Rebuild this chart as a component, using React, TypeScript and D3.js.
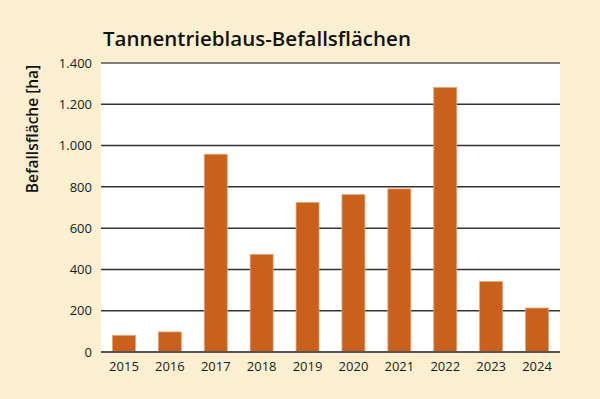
import React, { useEffect, useRef } from 'react';
import * as d3 from 'd3';

const years = ['2015', '2016', '2017', '2018', '2019', '2020', '2021', '2022', '2023', '2024'];
const areas = [80, 97, 958, 472, 724, 762, 790, 1281, 341, 213];
const yTicks = [0, 200, 400, 600, 800, 1000, 1200, 1400];

const fmt = (v: number) => d3.format(',')(v).replace(/,/g, '.');

export default function App() {
  const ref = useRef<SVGSVGElement | null>(null);

  useEffect(() => {
    const width = 600;
    const height = 399;
    const margin = { top: 63, right: 40, bottom: 47, left: 101 };
    const innerW = width - margin.left - margin.right;
    const innerH = height - margin.top - margin.bottom;

    const svg = d3.select(ref.current);
    svg.selectAll('*').remove();

    svg.append('rect').attr('width', width).attr('height', height).attr('fill', '#fdf0d0');

    const g = svg.append('g').attr('transform', 'translate(' + margin.left + ',' + margin.top + ')');

    g.append('rect').attr('width', innerW).attr('height', innerH).attr('fill', '#ffffff');

    const x = d3.scaleBand().domain(years).range([0, innerW]).paddingInner(0.5).paddingOuter(0.25);
    const y = d3.scaleLinear().domain([0, 1400]).range([innerH, 0]);

    // grid lines
    g.selectAll('.grid').data(yTicks).enter().append('line')
      .attr('x1', 0).attr('x2', innerW)
      .attr('y1', (d) => y(d)).attr('y2', (d) => y(d))
      .attr('stroke', (d) => (d === 0 || d === 1400 ? '#555' : '#333'))
      .attr('stroke-width', (d) => (d === 0 ? 2 : 1.5));

    // bars
    g.selectAll('.bar').data(areas).enter().append('rect')
      .attr('x', (d, i) => x(years[i]) as number)
      .attr('y', (d) => y(d))
      .attr('width', x.bandwidth())
      .attr('height', (d) => innerH - y(d))
      .attr('fill', '#c9601b')
      .attr('stroke', '#e8a070')
      .attr('stroke-width', 0.8);

    // redraw the baseline on top
    g.append('line').attr('x1', 0).attr('x2', innerW).attr('y1', innerH).attr('y2', innerH)
      .attr('stroke', '#555').attr('stroke-width', 2);

    const font = '"Open Sans", "DejaVu Sans", sans-serif';

    const yAxis = d3.axisLeft(y).tickValues(yTicks).tickSize(0).tickPadding(9).tickFormat((d) => fmt(d as number));
    const ya = g.append('g').call(yAxis);
    ya.select('.domain').remove();
    ya.selectAll('text').attr('font-family', font).attr('font-size', 13).attr('fill', '#1a1a1a');

    const xAxis = d3.axisBottom(x).tickSize(0).tickPadding(10);
    const xa = g.append('g').attr('transform', 'translate(0,' + innerH + ')').call(xAxis);
    xa.select('.domain').remove();
    xa.selectAll('text').attr('font-family', font).attr('font-size', 13).attr('fill', '#1a1a1a');

    svg.append('text')
      .attr('x', 103).attr('y', 46)
      .attr('font-family', font).attr('font-size', 20.5).attr('font-weight', 600)
      .attr('fill', '#111')
      .text('Tannentrieblaus-Befallsflächen');

    svg.append('text')
      .attr('transform', 'translate(38,129) rotate(-90)')
      .attr('text-anchor', 'middle')
      .attr('font-family', font).attr('font-size', 15.5).attr('font-weight', 600)
      .attr('fill', '#111')
      .text('Befallsfläche [ha]');
  }, []);

  return <svg ref={ref} width={600} height={399} style={{ display: 'block', position: 'absolute', left: 0, top: 0 }} />;
}
